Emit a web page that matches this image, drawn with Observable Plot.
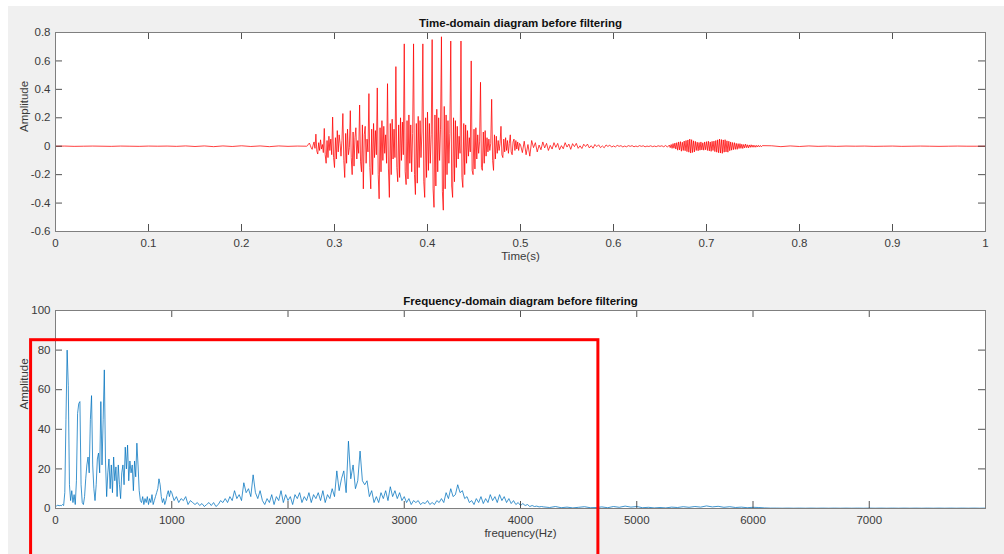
<!DOCTYPE html>
<html>
<head>
<meta charset="utf-8">
<script src="https://cdn.jsdelivr.net/npm/d3@7"></script>
<script src="https://cdn.jsdelivr.net/npm/@observablehq/plot@0.6"></script>
<style>
  html, body { margin: 0; padding: 0; background: #ffffff; overflow: hidden; width: 1004px; height: 554px; }
  #fig { position: absolute; left: 8px; top: 6px; width: 996px; height: 548px; background: #f0f0f0; }
  #timePanel, #freqPanel { position: absolute; left: 0; }
  #timePanel { top: 0; }
  #freqPanel { top: 270px; }
</style>
</head>
<body>
<div id="fig"></div>
<div id="timePanel"></div>
<div id="freqPanel"></div>
<script>
// ---- Time-domain signal (seconds, amplitude), stored per segment: start, sample step, values ----
const quietStart = 0, quietStep = 0.01;
const quietAmp = [0, 0.001, -0.001, 0, 0.001, 0, -0.001, 0.001, 0, -0.001,
  0.001, 0, 0.001, -0.001, 0.002, -0.002, 0.002, -0.003, 0.002, -0.002,
  0.003, -0.002, 0.002, -0.003, 0.002, -0.001, 0.001];

const voicedStart = 0.27, voicedStep = 0.001;
const voicedAmp = [
  0.000, 0.004, 0.015, 0.022, 0.006, -0.012, -0.022, 0.008, 0.030, -0.015,
  0.085, -0.035, -0.055, 0.025, -0.030, 0.045, -0.020, 0.012, -0.045, 0.125,
  -0.060, -0.120, 0.040, -0.080, 0.070, -0.030, 0.050, -0.060, 0.205, -0.080,
  -0.150, 0.060, -0.090, 0.110, -0.040, 0.080, 0.020, -0.070, 0.040, 0.230,
  -0.100, -0.220, 0.090, -0.120, 0.120, -0.060, -0.010, 0.250, -0.080, -0.200,
  0.100, -0.140, 0.060, 0.130, -0.090, 0.040, -0.050, 0.290, -0.110, -0.180,
  0.150, -0.300, 0.080, 0.140, -0.120, 0.050, -0.040, 0.370, -0.150, -0.300,
  0.120, -0.200, 0.160, -0.080, 0.110, -0.060, 0.410, -0.200, -0.370, 0.130,
  -0.180, 0.180, -0.100, 0.140, -0.050, 0.080, -0.120, 0.440, -0.160, -0.360,
  0.160, -0.200, 0.190, -0.090, 0.120, -0.080, 0.560, -0.150, -0.250, 0.150,
  -0.220, 0.200, -0.100, 0.170, -0.060, 0.720, -0.180, -0.270, 0.180, -0.230,
  0.220, -0.120, 0.150, -0.180, 0.090, 0.720, -0.200, -0.340, 0.160, -0.260,
  0.210, -0.150, 0.180, -0.080, 0.100, 0.720, -0.250, -0.360, 0.200, -0.220,
  0.240, -0.170, 0.160, -0.120, 0.080, 0.750, -0.300, -0.430, 0.220, -0.280,
  0.260, -0.180, 0.200, -0.100, 0.120, 0.770, -0.320, -0.450, 0.280, -0.300,
  0.220, -0.200, 0.180, -0.120, 0.090, 0.740, -0.280, -0.360, 0.200, -0.250,
  0.180, -0.150, 0.140, -0.090, 0.070, -0.050, 0.740, -0.220, -0.290, 0.160,
  -0.200, 0.150, -0.120, 0.110, -0.070, 0.060, -0.040, 0.600, -0.170, -0.200,
  0.120, -0.160, 0.130, -0.090, 0.080, -0.050, 0.030, 0.450, -0.150, -0.170,
  0.100, -0.120, 0.110, -0.070, 0.060, -0.040, 0.050, -0.030, 0.020, 0.330,
  -0.100, -0.170, 0.080, -0.090, 0.070, -0.050, 0.040, -0.030, 0.020, 0.140,
  -0.060, -0.080, 0.050, -0.040, 0.060, -0.030, 0.040, -0.050, 0.020, 0.080,
  -0.040, -0.060, 0.030, 0.050, -0.030, 0.040, -0.020, 0.030, -0.030, 0.020,
  0.010];

const decayStart = 0.502, decayStep = 0.002;
const decayAmp = [
  -0.045, 0.035, -0.060, 0.012, -0.070, 0.040, -0.010, 0.025, -0.040, 0.008,
  -0.025, 0.030, -0.012, 0.020, -0.030, 0.006, -0.020, 0.025, -0.008, 0.020,
  -0.025, 0.004, -0.018, 0.025, -0.006, 0.015, -0.022, 0.018, -0.003, 0.020,
  -0.015, 0.003, -0.016, 0.014, -0.002, 0.015, -0.012, 0.004, -0.014, 0.012,
  -0.003, 0.010, -0.010, 0.002, -0.011, 0.009, -0.002, 0.008, -0.006, 0.002,
  -0.005, 0.006, -0.001, 0.004, -0.005, 0.001, -0.004, 0.004, -0.001, 0.004,
  -0.004, 0.001, -0.003, 0.004, -0.001, 0.003, -0.004, 0.001, -0.002, 0.003,
  -0.003, 0.001, -0.003, 0.003, -0.001, 0.003, -0.004, 0.005, -0.006, 0.008];

const burstStart = 0.661, burstStep = 0.001;
const burstAmp = [
  -0.010, 0.012, -0.015, 0.018, -0.014, 0.022, -0.020, 0.025, -0.028, 0.030,
  -0.026, 0.032, -0.035, 0.028, -0.030, 0.036, -0.032, 0.040, -0.038, 0.044,
  -0.042, 0.050, -0.048, 0.046, -0.044, 0.038, -0.040, 0.034, -0.030, 0.028,
  -0.032, 0.026, -0.028, 0.030, -0.026, 0.024, -0.028, 0.030, -0.025, 0.032,
  -0.030, 0.035, -0.033, 0.030, -0.036, 0.034, -0.030, 0.036, -0.038, 0.040,
  -0.042, 0.045, -0.046, 0.050, -0.048, 0.047, -0.050, 0.044, -0.042, 0.046,
  -0.040, 0.038, -0.042, 0.035, -0.032, 0.030, -0.028, 0.026, -0.024, 0.025,
  -0.022, 0.020, -0.022, 0.018, -0.016, 0.018, -0.015, 0.014, -0.016, 0.012,
  -0.012, 0.015, -0.010, 0.010, -0.012, 0.009, -0.008, 0.010, -0.007, 0.008,
  -0.007, 0.006, -0.007, 0.006, -0.005, 0.006, -0.004, 0.005, -0.004, 0.004];

const tailStart = 0.77, tailStep = 0.01;
const tailAmp = [0.003, -0.003, 0.002, -0.002, 0.002, -0.001, 0.001, -0.001, 0.001, 0,
  0.001, -0.001, 0, 0.001, -0.001, 0, 0.001, 0, -0.001, 0, 0.001, 0, 0, 0];

// ---- Magnitude spectrum (Hz, amplitude), stored per band ----
const lowBandStart = 0, lowBandStep = 10;
const lowBandAmp = [
  1.5, 1.2, 1.8, 1.3, 1.6, 1.4, 2, 1.5, 8, 45,
  80, 62, 12, 4, 9, 3, 7, 2, 14, 48,
  53, 54, 12, 3, 2, 6, 15, 22, 26, 18,
  45, 57, 22, 10, 4, 12, 25, 28, 18, 54,
  22, 45, 70, 24, 6, 18, 25, 10, 22, 8,
  26, 14, 21, 6, 22, 12, 5, 18, 22, 12,
  31, 20, 32, 14, 24, 18, 22, 9, 24, 16,
  33, 22, 9, 4, 3, 6, 2, 5, 3, 6,
  2, 5, 3, 7, 2, 4, 6, 8, 10, 15,
  12, 6, 3, 5, 2, 4, 7, 9, 6, 9];

const midBandStart = 1000, midBandStep = 20;
const midBandAmp = [
  8, 4, 6, 3, 5, 4, 6, 2, 4, 3,
  2, 3, 1.5, 2.5, 1, 2, 3, 1.5, 3, 1,
  2, 4, 3, 5, 3, 6, 4, 9, 5, 7,
  4, 13, 8, 10, 6, 17, 8, 5, 9, 4,
  2, 5, 3, 7, 2, 6, 4, 9, 3, 7,
  4, 6, 2, 7, 5, 8, 3, 6, 4, 8,
  3, 7, 5, 8, 4, 9, 3, 7, 5, 10,
  6, 19, 9, 15, 19, 8, 34, 15, 22, 10,
  14, 29, 14, 12, 14, 6, 9, 3, 6, 3,
  8, 5, 9, 4, 11, 6, 9, 5, 8, 4,
  6, 3, 5, 2, 4, 3, 4, 2, 3, 2.5,
  4, 2, 3, 2, 4, 3, 5, 3, 8, 5,
  10, 6, 7, 12, 8, 9, 5, 6, 3, 4,
  2, 5, 3, 6, 2.5, 5, 3, 7, 4, 6,
  3, 7, 4, 6, 3, 5, 2.5, 4, 2, 3,
  1.5, 2.5, 1.5, 2, 1, 1.5, 1, 1.2, 0.8, 1];

const highBandStart = 4200, highBandStep = 50;
const highBandAmp = [
  0.8, 0.5, 1, 0.4, 0.7, 0.3, 0.6, 0.9, 0.4, 0.5,
  0.8, 0.4, 1, 0.6, 1.2, 0.7, 1, 0.4, 0.6, 0.3,
  0.5, 0.3, 0.7, 0.5, 0.9, 0.6, 1, 0.7, 1.3, 0.8,
  1.1, 0.6, 0.9, 0.5, 0.7, 0.4, 0.6, 0.5, 0.3, 0.2,
  0.2, 0.15, 0.2, 0.15, 0.2, 0.15, 0.2, 0.15, 0.2, 0.15,
  0.2, 0.15, 0.2, 0.15, 0.2, 0.15, 0.2, 0.15, 0.2, 0.15,
  0.2, 0.15, 0.2, 0.15, 0.2, 0.15, 0.2, 0.15, 0.2, 0.15,
  0.2, 0.15, 0.2, 0.15, 0.2, 0.15, 0.2];

// ---- Axis ticks ----
const timeTicks = [0, 0.1, 0.2, 0.3, 0.4, 0.5, 0.6, 0.7, 0.8, 0.9, 1];
const waveTicks = [-0.6, -0.4, -0.2, 0, 0.2, 0.4, 0.6, 0.8];
const freqTicks = [0, 1000, 2000, 3000, 4000, 5000, 6000, 7000];
const specTicks = [0, 20, 40, 60, 80, 100];

// Highlighted band drawn over the spectrum (Hz range, amplitude range)
const highlightBand = [{fromHz: -210, toHz: 4670, top: 85, bottom: -30}];

function segment(start, step, values, key) {
  return values.map((v, i) => ({[key]: start + i * step, v}));
}

const wave = [
  ...segment(quietStart, quietStep, quietAmp, "t"),
  ...segment(voicedStart, voicedStep, voicedAmp, "t"),
  ...segment(decayStart, decayStep, decayAmp, "t"),
  ...segment(burstStart, burstStep, burstAmp, "t"),
  ...segment(tailStart, tailStep, tailAmp, "t")
];
const spectrum = [
  ...segment(lowBandStart, lowBandStep, lowBandAmp, "f"),
  ...segment(midBandStart, midBandStep, midBandAmp, "f"),
  ...segment(highBandStart, highBandStep, highBandAmp, "f")
];

const W = 1004, ML = 55, MR = 19;
const innerW = W - ML - MR;
const FONT = "'Liberation Sans', Arial, Helvetica, sans-serif";
const FS = 11.5;
const axisInk = "#262626", frameInk = "#7f7f7f", textInk = "#3a3a3a";
const baseStyle = {background: "transparent", fontFamily: FONT, fontSize: FS + "px", color: textInk, overflow: "visible"};

function boxTicks(xTicks, yTicks, innerH) {
  return [
    Plot.tickX(xTicks, {x: d => d, insetTop: innerH - 7, stroke: axisInk, strokeWidth: 0.8}),
    Plot.tickX(xTicks, {x: d => d, insetBottom: innerH - 7, stroke: axisInk, strokeWidth: 0.8}),
    Plot.tickY(yTicks, {y: d => d, insetRight: innerW - 7, stroke: axisInk, strokeWidth: 0.8}),
    Plot.tickY(yTicks, {y: d => d, insetLeft: innerW - 7, stroke: axisInk, strokeWidth: 0.8})
  ];
}

function panelText(title, xLabel, yLabel) {
  return [
    Plot.text([title], {text: d => d, frameAnchor: "top", dy: -14, fontWeight: "bold", fontSize: FS, fill: "#111"}),
    Plot.text([xLabel], {text: d => d, frameAnchor: "bottom", dy: 28, fontSize: FS, fill: textInk}),
    Plot.text([yLabel], {text: d => d, frameAnchor: "left", dx: -31, rotate: -90, fontSize: FS, fill: textInk})
  ];
}

// Upper panel: waveform
const H1 = 270, MT1 = 32, MB1 = 39;
const timePlot = Plot.plot({
  width: W, height: H1,
  marginTop: MT1, marginBottom: MB1, marginLeft: ML, marginRight: MR,
  style: baseStyle,
  x: {domain: [0, 1], label: null},
  y: {domain: [-0.6, 0.8], label: null},
  marks: [
    Plot.frame({fill: "white", stroke: "none"}),
    Plot.line(wave, {x: "t", y: "v", stroke: "#ff0000", strokeWidth: 0.75}),
    ...boxTicks(timeTicks, waveTicks, H1 - MT1 - MB1),
    Plot.frame({stroke: frameInk, strokeWidth: 1}),
    Plot.axisX(timeTicks, {tickSize: 0, tickPadding: 7, tickFormat: d => String(d), label: null, fill: textInk}),
    Plot.axisY(waveTicks, {tickSize: 0, tickPadding: 5, tickFormat: d => String(d), label: null, fill: textInk}),
    ...panelText("Time-domain diagram before filtering", "Time(s)", "Amplitude")
  ]
});
document.getElementById("timePanel").append(timePlot);

// Lower panel: magnitude spectrum
const H2 = 284, MT2 = 40, MB2 = 46;
const freqPlot = Plot.plot({
  width: W, height: H2,
  marginTop: MT2, marginBottom: MB2, marginLeft: ML, marginRight: MR,
  style: baseStyle,
  x: {domain: [0, 8000], label: null},
  y: {domain: [0, 100], label: null},
  marks: [
    Plot.frame({fill: "white", stroke: "none"}),
    Plot.line(spectrum, {x: "f", y: "v", stroke: "#0072bd", strokeWidth: 0.75}),
    ...boxTicks(freqTicks, specTicks, H2 - MT2 - MB2),
    Plot.frame({stroke: frameInk, strokeWidth: 1}),
    Plot.axisX(freqTicks, {tickSize: 0, tickPadding: 7, tickFormat: d => String(d), label: null, fill: textInk}),
    Plot.axisY(specTicks, {tickSize: 0, tickPadding: 5, tickFormat: d => String(d), label: null, fill: textInk}),
    ...panelText("Frequency-domain diagram before filtering", "frequency(Hz)", "Amplitude"),
    Plot.rect(highlightBand, {x1: "fromHz", x2: "toHz", y1: "bottom", y2: "top", fill: "none", stroke: "#ff0000", strokeWidth: 3})
  ]
});
document.getElementById("freqPanel").append(freqPlot);
</script>
</body>
</html>
